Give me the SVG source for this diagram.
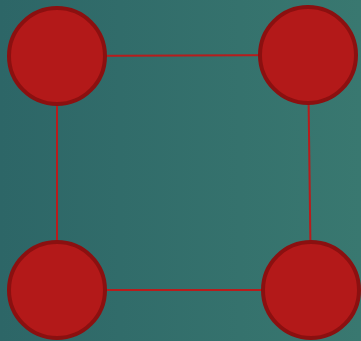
<svg xmlns="http://www.w3.org/2000/svg" width="361" height="341" viewBox="0 0 361 341">
<defs>
<linearGradient id="bg" x1="0" y1="0" x2="1" y2="0">
<stop offset="0" stop-color="#2d6667"/>
<stop offset="1" stop-color="#397870"/>
</linearGradient>
<style>
.node{fill:#b31919;stroke:#8b1010;stroke-width:4}
.edge{stroke:#b81c1c;stroke-width:2;fill:none}
</style>
</defs>
<rect width="361" height="341" fill="url(#bg)"/>
<g id="connectors">
<line class="edge" x1="57" y1="56" x2="308" y2="55"/>
<line class="edge" x1="57" y1="56" x2="57" y2="290"/>
<line class="edge" x1="308" y1="55" x2="311" y2="290"/>
<line class="edge" x1="57" y1="290" x2="311" y2="290"/>
</g>
<g id="node1"><circle class="node" cx="57" cy="56" r="48"/></g>
<g id="node2"><circle class="node" cx="308" cy="55" r="48"/></g>
<g id="node3"><circle class="node" cx="57" cy="290" r="48"/></g>
<g id="node4"><circle class="node" cx="311" cy="290" r="48"/></g>
</svg>
